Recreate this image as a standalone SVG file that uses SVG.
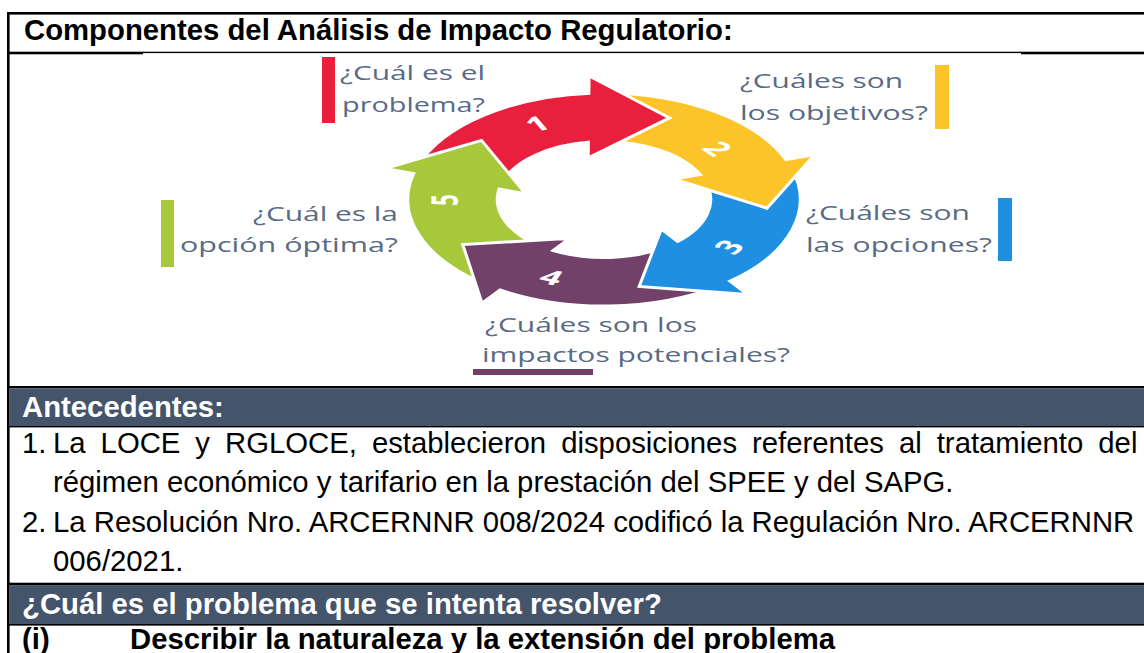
<svg xmlns="http://www.w3.org/2000/svg" width="1144" height="653" viewBox="0 0 1144 653">
<defs>
<style>
.t{font-family:"Liberation Sans",Arial,sans-serif;font-size:29.3px;fill:#000}
.b{font-weight:bold}
.w{fill:#fff}
.lbl{font-family:"Open Sans","Noto Sans",sans-serif;font-size:20px;fill:#586a85}
.num{font-family:"Open Sans","Liberation Sans",sans-serif;font-weight:bold;font-size:20px;fill:#fff}
.band{fill:#44546a}
.ln{fill:#000}
</style>
<path id="arrow" d="M-9.29 -106.19 A106.6 106.6 0 0 1 94.49 -49.35 L109.59 -55.84 L89 0 L35.65 -24.05 L49.61 -30.05 A58 58 0 0 0 -5.06 -57.78 Z" stroke="#fff" stroke-width="3" vector-effect="non-scaling-stroke"/>
</defs>
<rect width="1144" height="653" fill="#fff"/>

<g id="table">
<rect class="ln" x="7" y="12" width="1137" height="2.6"/>
<rect class="ln" x="7" y="12" width="2.6" height="641"/>
<rect class="ln" x="7" y="51.7" width="136" height="2.6"/>
<rect class="ln" x="143" y="51.7" width="878" height="1.4"/>
<rect class="ln" x="1021" y="51.7" width="123" height="2.6"/>
<rect class="ln" x="7" y="386" width="1137" height="2.4"/>
<rect class="band" x="9.6" y="388.4" width="1134.4" height="37.6"/>
<rect class="ln" x="7" y="426" width="1137" height="1.4"/>
<rect class="ln" x="7" y="582.7" width="1137" height="2.4"/>
<rect class="band" x="9.6" y="585.1" width="1134.4" height="38.9"/>
<rect class="ln" x="7" y="624" width="1137" height="1.6"/>
</g>

<g id="title">
<text class="t b" x="24" y="40">Componentes del Análisis de Impacto Regulatorio:</text>
</g>

<g id="cycle">
<g transform="translate(604 199.5) scale(1.84 1)">
<use id="arrow1" href="#arrow" transform="rotate(-66.4)" fill="#e8203e"/>
<use id="arrow5" href="#arrow" transform="rotate(221.6)" fill="#a6c83a"/>
<use id="arrow4" href="#arrow" transform="rotate(149.6)" fill="#71416a"/>
<use id="arrow3" href="#arrow" transform="rotate(77.6)" fill="#1e8fe1"/>
<use id="arrow2" href="#arrow" transform="rotate(5.6)" fill="#fdc42a"/>
<g transform="rotate(-66.4)">
<path d="M94.49 -49.35 L109.59 -55.84 L89 0 L35.65 -24.05 L49.61 -30.05 Z" fill="#e8203e"/>
<path d="M109.59 -55.84 L89 0 L35.65 -24.05" fill="none" stroke="#fff" stroke-width="3" vector-effect="non-scaling-stroke"/>
</g>
<text class="num" transform="translate(-36.5 -76.2) rotate(-25.6)" text-anchor="middle" dominant-baseline="central">1</text>
<text class="num" transform="translate(62.1 -51.2) rotate(50.5)" text-anchor="middle" dominant-baseline="central">2</text>
<text class="num" transform="translate(67.6 47.1) rotate(-55.1)" text-anchor="middle" dominant-baseline="central">3</text>
<text class="num" transform="translate(-28.4 77.2) rotate(20.2)" text-anchor="middle" dominant-baseline="central">4</text>
<text class="num" transform="translate(-87.3 0.5) rotate(-90.3)" text-anchor="middle" dominant-baseline="central">5</text>
</g>
</g>

<g id="step1">
<rect x="322" y="57" width="13" height="66" fill="#e8203e"/>
<text class="lbl" x="340" y="80" textLength="145" lengthAdjust="spacingAndGlyphs">¿Cuál es el</text>
<text class="lbl" x="342" y="112" textLength="143" lengthAdjust="spacingAndGlyphs">problema?</text>
</g>
<g id="step2">
<rect x="935" y="65" width="14" height="64" fill="#fdc42a"/>
<text class="lbl" x="740" y="88" textLength="163" lengthAdjust="spacingAndGlyphs">¿Cuáles son</text>
<text class="lbl" x="740" y="120" textLength="188" lengthAdjust="spacingAndGlyphs">los objetivos?</text>
</g>
<g id="step3">
<rect x="998" y="198" width="14" height="63" fill="#1e8fe1"/>
<text class="lbl" x="806" y="220" textLength="164" lengthAdjust="spacingAndGlyphs">¿Cuáles son</text>
<text class="lbl" x="806" y="252" textLength="186" lengthAdjust="spacingAndGlyphs">las opciones?</text>
</g>
<g id="step4">
<rect x="473" y="369" width="120" height="6" fill="#71416a"/>
<text class="lbl" x="485" y="332" textLength="212" lengthAdjust="spacingAndGlyphs">¿Cuáles son los</text>
<text class="lbl" x="482" y="362" textLength="308" lengthAdjust="spacingAndGlyphs">impactos potenciales?</text>
</g>
<g id="step5">
<rect x="161" y="200" width="13" height="67" fill="#a6c83a"/>
<text class="lbl" x="253" y="221" textLength="145" lengthAdjust="spacingAndGlyphs">¿Cuál es la</text>
<text class="lbl" x="180" y="252" textLength="218" lengthAdjust="spacingAndGlyphs">opción óptima?</text>
</g>

<g id="antecedentes">
<text class="t b w" x="22" y="417">Antecedentes:</text>
<text class="t" x="22" y="453">1.</text>
<text class="t" x="53" y="453" word-spacing="6.86">La LOCE y RGLOCE, establecieron disposiciones referentes al tratamiento del</text>
<text class="t" x="53" y="492">régimen económico y tarifario en la prestación del SPEE y del SAPG.</text>
<text class="t" x="22" y="532">2.</text>
<text class="t" x="53" y="532">La Resolución Nro. ARCERNNR 008/2024 codificó la Regulación Nro. ARCERNNR</text>
<text class="t" x="53" y="571">006/2021.</text>
</g>

<g id="problema">
<text class="t b w" x="22" y="614">¿Cuál es el problema que se intenta resolver?</text>
<text class="t b" x="22" y="649">(i)</text>
<text class="t b" x="130" y="649">Describir la naturaleza y la extensión del problema</text>
</g>
</svg>
